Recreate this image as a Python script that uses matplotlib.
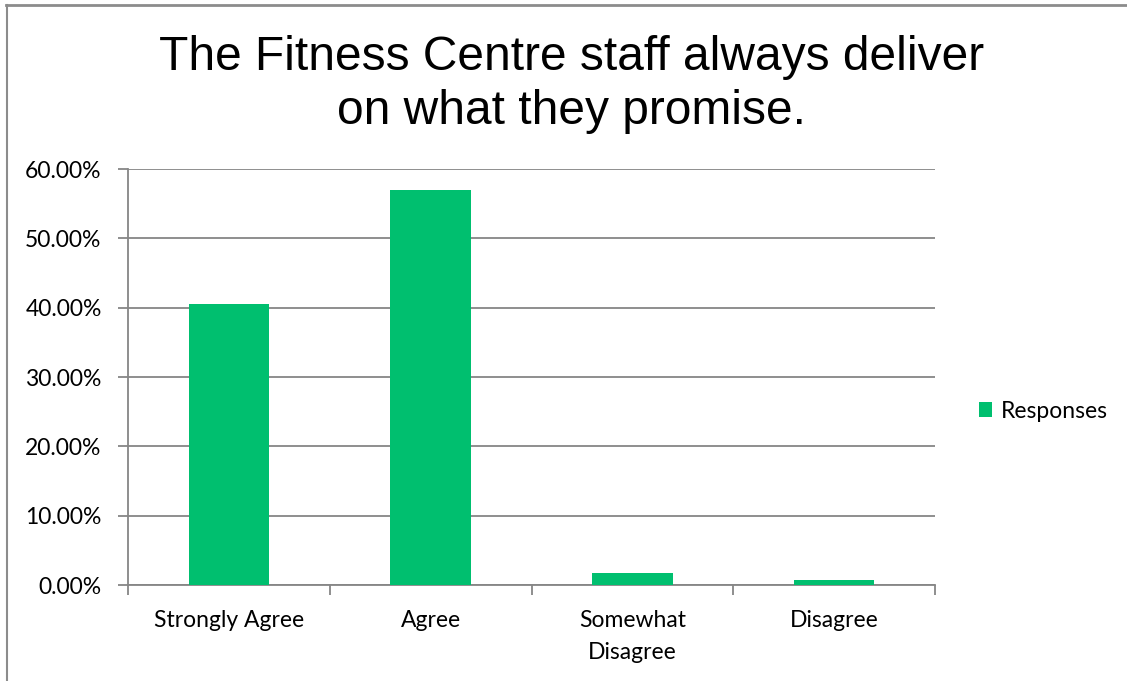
import matplotlib
matplotlib.use("Agg")
import matplotlib.pyplot as plt
from matplotlib.ticker import FuncFormatter, MultipleLocator
from matplotlib.lines import Line2D
from matplotlib.patches import Patch

categories = ["Strongly Agree", "Agree", "Somewhat\nDisagree", "Disagree"]
responses = [40.6, 56.9, 1.8, 0.7]
series_name = "Responses"
title = "The Fitness Centre staff always deliver\non what they promise."

W, H = 1127, 681
fig = plt.figure(figsize=(W / 100, H / 100), dpi=100)
fig.patch.set_facecolor("white")

bar_color = "#00BF6F"
grid_color = "#868686"
label_font = ["Lato", "DejaVu Sans"]
label_size = 16.5

ax = fig.add_axes([128 / W, 1 - 585 / H, (935 - 128) / W, (585 - 169) / H])
x = list(range(len(categories)))
ax.bar(x, responses, width=0.4, color=bar_color, zorder=3, label=series_name)

ax.set_xlim(-0.5, len(categories) - 0.5)
ax.set_ylim(0, 60)
ax.yaxis.set_major_locator(MultipleLocator(10))
ax.yaxis.set_major_formatter(FuncFormatter(lambda v, p: f"{v:.2f}%"))
ax.grid(axis="y", color=grid_color, linewidth=1.3, zorder=0)
ax.set_axisbelow(True)

for side in ["top", "right"]:
    ax.spines[side].set_visible(False)
for side in ["left", "bottom"]:
    ax.spines[side].set_color(grid_color)
    ax.spines[side].set_linewidth(1.3)

ax.set_xticks([i - 0.5 for i in range(len(categories) + 1)], minor=False)
ax.set_xticklabels([])
ax.set_xticks(x, minor=True)
ax.set_xticklabels(categories, minor=True, fontsize=label_size, family=label_font,
                   linespacing=1.65)
ax.tick_params(axis="x", which="major", length=7, width=1.3, color=grid_color,
               direction="out")
ax.tick_params(axis="x", which="minor", length=0, pad=18)
ax.tick_params(axis="y", length=7, width=1.3, color=grid_color, direction="out",
               labelsize=label_size, pad=12)
for lbl in ax.get_yticklabels():
    lbl.set_family(label_font)

fig.text(0.5 + 8 / W, 1 - 35 / H, title, ha="center", va="top", fontsize=34.5,
         family=["Liberation Sans", "DejaVu Sans"], linespacing=1.26)

handles = [Patch(facecolor=bar_color, edgecolor="none")]
fig.legend(handles, [series_name], loc="center left",
           bbox_to_anchor=(958 / W, 1 - 411 / H), frameon=False,
           prop={"family": label_font, "size": label_size}, handlelength=0.58,
           handleheight=0.58, handletextpad=0.4)

# outer chart frame (top and left edges)
fig.add_artist(Line2D([6 / W, 1], [1 - 4.5 / H, 1 - 4.5 / H],
                      transform=fig.transFigure, color="#8c8c8c", linewidth=2))
fig.add_artist(Line2D([6.5 / W, 6.5 / W], [0, 1 - 4.5 / H],
                      transform=fig.transFigure, color="#8c8c8c", linewidth=1.5))

fig.savefig("out.png", dpi=100)
